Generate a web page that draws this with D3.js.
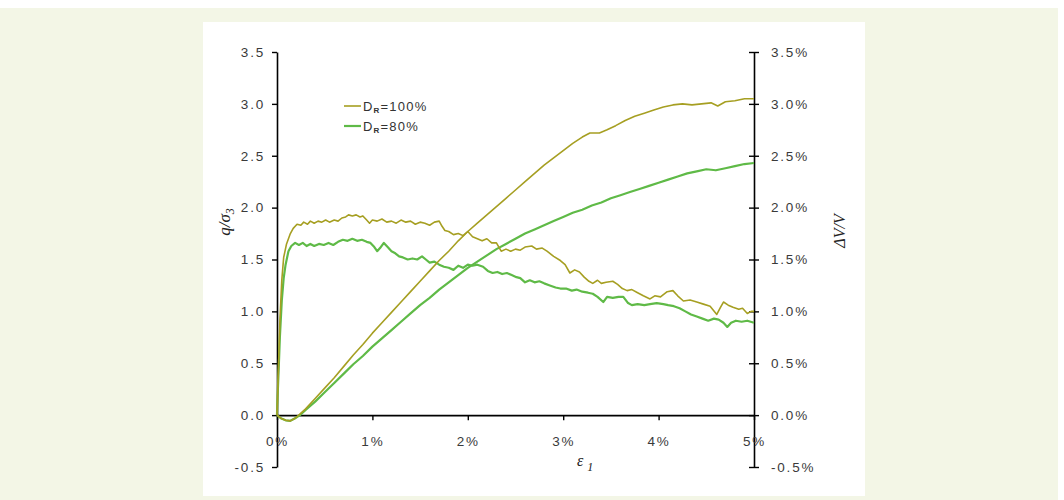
<!DOCTYPE html>
<html>
<head>
<meta charset="utf-8">
<script src="https://cdn.jsdelivr.net/npm/d3@7"></script>
<style>
  html, body { margin: 0; padding: 0; background: #ffffff; }
  svg { display: block; }
  .tick text { font-family: "Liberation Sans", Arial, sans-serif; font-size: 13.5px; fill: #3a3a3a; letter-spacing: 1.8px; }
</style>
</head>
<body>
<svg id="chart" width="1064" height="500"></svg>
<script>
// Deviator stress ratio q/σ3 against axial strain ε1 (%)
const stress100 = [[0,0],[0.01,0.3],[0.03,0.9],[0.05,1.3],[0.07,1.52],[0.1,1.65],[0.14,1.75],[0.17,1.80],[0.21,1.84],[0.25,1.83],[0.28,1.86],[0.32,1.84],[0.35,1.87],[0.39,1.85],[0.43,1.87],[0.47,1.86],[0.51,1.88],[0.55,1.86],[0.6,1.88],[0.64,1.87],[0.68,1.90],[0.72,1.91],[0.75,1.93],[0.79,1.92],[0.83,1.93],[0.87,1.91],[0.9,1.92],[0.94,1.88],[0.97,1.85],[1.0,1.88],[1.05,1.87],[1.1,1.89],[1.15,1.86],[1.2,1.87],[1.25,1.85],[1.3,1.88],[1.35,1.86],[1.4,1.87],[1.45,1.84],[1.5,1.86],[1.55,1.85],[1.6,1.83],[1.65,1.86],[1.7,1.87],[1.73,1.82],[1.76,1.78],[1.8,1.77],[1.85,1.74],[1.9,1.75],[1.95,1.73],[2.0,1.77],[2.05,1.72],[2.1,1.70],[2.15,1.68],[2.2,1.70],[2.25,1.66],[2.3,1.66],[2.35,1.58],[2.4,1.60],[2.45,1.58],[2.5,1.60],[2.55,1.59],[2.6,1.62],[2.67,1.63],[2.72,1.60],[2.78,1.61],[2.83,1.58],[2.9,1.53],[2.97,1.49],[3.02,1.45],[3.07,1.37],[3.12,1.40],[3.17,1.38],[3.22,1.33],[3.27,1.29],[3.31,1.27],[3.36,1.30],[3.4,1.27],[3.45,1.28],[3.52,1.29],[3.57,1.26],[3.62,1.22],[3.67,1.20],[3.72,1.21],[3.78,1.18],[3.84,1.15],[3.91,1.12],[3.96,1.15],[4.02,1.14],[4.09,1.19],[4.15,1.20],[4.2,1.15],[4.26,1.10],[4.33,1.11],[4.4,1.09],[4.47,1.07],[4.54,1.05],[4.61,0.97],[4.65,1.04],[4.68,1.09],[4.73,1.06],[4.78,1.04],[4.84,1.02],[4.88,1.03],[4.93,0.98],[4.97,1.00],[5.0,1.00]];

const stress80 = [[0,0],[0.005,0.15],[0.02,0.5],[0.03,0.75],[0.05,1.1],[0.07,1.32],[0.09,1.45],[0.12,1.58],[0.15,1.63],[0.19,1.66],[0.23,1.64],[0.27,1.66],[0.31,1.63],[0.35,1.65],[0.39,1.63],[0.44,1.65],[0.49,1.64],[0.54,1.66],[0.59,1.64],[0.64,1.67],[0.69,1.69],[0.74,1.68],[0.79,1.70],[0.84,1.68],[0.89,1.69],[0.94,1.67],[0.98,1.66],[1.02,1.62],[1.05,1.58],[1.08,1.61],[1.12,1.66],[1.16,1.62],[1.2,1.58],[1.24,1.56],[1.28,1.53],[1.32,1.52],[1.37,1.50],[1.42,1.51],[1.47,1.50],[1.52,1.53],[1.56,1.50],[1.6,1.47],[1.65,1.48],[1.7,1.45],[1.75,1.43],[1.8,1.42],[1.85,1.40],[1.9,1.44],[1.95,1.42],[2.0,1.45],[2.05,1.44],[2.1,1.45],[2.16,1.43],[2.21,1.39],[2.26,1.37],[2.31,1.38],[2.36,1.36],[2.41,1.37],[2.46,1.35],[2.51,1.33],[2.55,1.32],[2.6,1.28],[2.65,1.30],[2.7,1.28],[2.75,1.29],[2.8,1.27],[2.86,1.25],[2.92,1.23],[2.97,1.22],[3.03,1.22],[3.09,1.20],[3.14,1.21],[3.2,1.19],[3.26,1.18],[3.31,1.17],[3.36,1.14],[3.42,1.09],[3.46,1.14],[3.52,1.13],[3.58,1.14],[3.63,1.14],[3.68,1.08],[3.72,1.06],[3.78,1.07],[3.85,1.06],[3.91,1.07],[3.98,1.08],[4.05,1.07],[4.1,1.06],[4.16,1.05],[4.22,1.03],[4.28,1.00],[4.34,0.97],[4.4,0.95],[4.46,0.93],[4.52,0.91],[4.58,0.93],[4.63,0.92],[4.68,0.89],[4.72,0.85],[4.76,0.89],[4.81,0.91],[4.87,0.90],[4.93,0.91],[5.0,0.89]];

// Volumetric strain ΔV/V (%) against axial strain ε1 (%)
const vol100 = [[0,0],[0.04,-0.03],[0.09,-0.05],[0.14,-0.055],[0.19,-0.03],[0.24,0.01],[0.3,0.06],[0.4,0.16],[0.5,0.26],[0.6,0.36],[0.7,0.47],[0.8,0.58],[0.9,0.68],[1.0,0.79],[1.1,0.89],[1.2,0.99],[1.3,1.09],[1.4,1.19],[1.5,1.29],[1.6,1.39],[1.7,1.49],[1.8,1.58],[1.9,1.68],[2.0,1.77],[2.1,1.85],[2.2,1.93],[2.3,2.01],[2.4,2.09],[2.5,2.17],[2.6,2.25],[2.7,2.33],[2.8,2.41],[2.9,2.48],[3.0,2.55],[3.1,2.62],[3.2,2.68],[3.28,2.72],[3.38,2.72],[3.46,2.75],[3.55,2.79],[3.65,2.84],[3.75,2.88],[3.85,2.91],[3.95,2.94],[4.05,2.97],[4.15,2.99],[4.25,3.00],[4.35,2.99],[4.45,3.00],[4.55,3.01],[4.62,2.98],[4.7,3.02],[4.8,3.03],[4.9,3.05],[5.0,3.05]];

const vol80 = [[0,0],[0.04,-0.03],[0.09,-0.05],[0.14,-0.055],[0.19,-0.03],[0.24,0.0],[0.3,0.05],[0.4,0.13],[0.5,0.22],[0.6,0.31],[0.7,0.40],[0.8,0.49],[0.9,0.57],[1.0,0.66],[1.1,0.74],[1.2,0.82],[1.3,0.90],[1.4,0.98],[1.5,1.06],[1.6,1.13],[1.7,1.21],[1.8,1.28],[1.9,1.35],[2.0,1.42],[2.1,1.48],[2.2,1.54],[2.3,1.60],[2.4,1.65],[2.5,1.70],[2.6,1.75],[2.7,1.79],[2.8,1.83],[2.9,1.87],[3.0,1.91],[3.1,1.95],[3.2,1.98],[3.3,2.02],[3.4,2.05],[3.5,2.09],[3.6,2.12],[3.7,2.15],[3.8,2.18],[3.9,2.21],[4.0,2.24],[4.1,2.27],[4.2,2.30],[4.3,2.33],[4.4,2.35],[4.5,2.37],[4.6,2.36],[4.7,2.38],[4.8,2.40],[4.9,2.42],[5.0,2.43]];

const xTicks = [0, 1, 2, 3, 4, 5];
const yTicks = [-0.5, 0, 0.5, 1, 1.5, 2, 2.5, 3, 3.5];
const seriesNames = ["100%", "80%"];
const seriesColors = ["#a69f22", "#5fba47"];

const svg = d3.select("#chart");

// page background and plot panel
svg.append("rect").attr("x", 0).attr("y", 8).attr("width", 1058).attr("height", 492).attr("fill", "#f3f6e6");
svg.append("rect").attr("x", 203).attr("y", 22).attr("width", 662).attr("height", 474).attr("fill", "#ffffff");

const x = d3.scaleLinear().domain([0, 5]).range([277, 754]);
const yL = d3.scaleLinear().domain([-0.5, 3.5]).range([467, 52]);
const yR = d3.scaleLinear().domain([-0.5, 3.5]).range([467, 52]);

const fmtNum = v => (v < 0 ? "-" : "") + Math.abs(v).toFixed(1);

// left axis
const gL = svg.append("g").attr("transform", "translate(277,0)")
  .call(d3.axisLeft(yL).tickValues(yTicks).tickSize(5).tickSizeOuter(0).tickPadding(7).tickFormat(fmtNum));
// right axis with crossing ticks
const gR = svg.append("g").attr("transform", "translate(754,0)")
  .call(d3.axisRight(yR).tickValues(yTicks).tickSize(5).tickSizeOuter(0).tickPadding(12).tickFormat(v => fmtNum(v) + "%"));
gR.selectAll(".tick line").attr("x1", -5);
// horizontal axis drawn at zero
const gX = svg.append("g").attr("transform", `translate(0,${yL(0)})`)
  .call(d3.axisBottom(x).tickValues(xTicks).tickSize(5).tickSizeOuter(0).tickPadding(16).tickFormat(v => v + "%"));

[gL, gR, gX].forEach(g => {
  g.select(".domain").attr("stroke", "#000").attr("stroke-width", 1.6);
  g.selectAll(".tick line").attr("stroke", "#000").attr("stroke-width", 1.4);
});

const line = (ys) => d3.line().x(d => x(d[0])).y(d => ys(d[1]));

const plot = svg.append("g");
const draw = (data, ys, color, w) => plot.append("path").datum(data)
  .attr("fill", "none").attr("stroke", color).attr("stroke-width", w)
  .attr("stroke-linejoin", "round").attr("d", line(ys));

draw(vol80, yR, seriesColors[1], 2.2);
draw(stress80, yL, seriesColors[1], 2.2);
draw(vol100, yR, seriesColors[0], 1.6);
draw(stress100, yL, seriesColors[0], 1.6);

// legend
const legend = svg.append("g").attr("font-family", "Liberation Sans, Arial, sans-serif").attr("font-size", 13).attr("fill", "#333");
seriesNames.forEach((name, i) => {
  const yy = 106 + i * 20;
  legend.append("line").attr("x1", 344).attr("x2", 361).attr("y1", yy).attr("y2", yy)
    .attr("stroke", seriesColors[i]).attr("stroke-width", i === 0 ? 1.6 : 2.2);
  const t = legend.append("text").attr("x", 363).attr("y", yy + 5).attr("letter-spacing", "1.2px");
  t.append("tspan").text("D");
  t.append("tspan").attr("font-size", 8).attr("font-weight", "bold").attr("dy", 2).text("R");
  t.append("tspan").attr("dy", -2).text("=" + name);
});

// axis titles
const serif = "Liberation Serif, Times New Roman, serif";
const yt = svg.append("text").attr("transform", "translate(230,222) rotate(-90)")
  .attr("text-anchor", "middle").attr("font-family", serif).attr("font-size", 17)
  .attr("font-style", "italic").attr("fill", "#222");
yt.append("tspan").text("q/σ");
yt.append("tspan").attr("font-size", 12).attr("dy", 4).text("3");

svg.append("text").attr("transform", "translate(845,231) rotate(-90)")
  .attr("text-anchor", "middle").attr("font-family", serif).attr("font-size", 16)
  .attr("font-style", "italic").attr("fill", "#222").text("ΔV/V");

const xt = svg.append("text").attr("x", 577).attr("y", 466)
  .attr("font-family", serif).attr("font-size", 16).attr("font-style", "italic").attr("fill", "#222");
xt.append("tspan").text("ε");
xt.append("tspan").attr("font-size", 12).attr("dx", 4).attr("dy", 5).text("1");
</script>
</body>
</html>
